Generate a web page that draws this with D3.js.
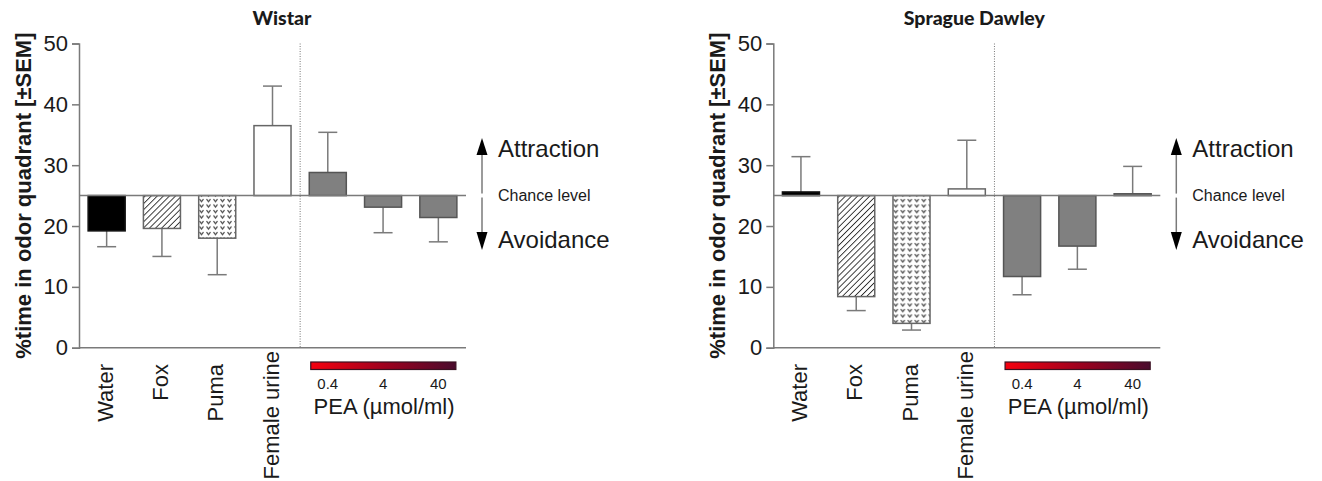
<!DOCTYPE html>
<html>
<head>
<meta charset="utf-8">
<script src="https://cdn.jsdelivr.net/npm/d3@7"></script>
<style>
  html, body { margin: 0; padding: 0; background: #fff; }
  svg { display: block; }
  text { font-family: "Liberation Sans", Arial, sans-serif; fill: #1a1a1a; }
</style>
</head>
<body>
<svg id="chart" width="1322" height="481"></svg>
<script>
// Odor conditions, left to right
const categories = ["Water", "Fox", "Puma", "Female urine", "PEA 0.4", "PEA 4", "PEA 40"];
const axisLabels = ["Water", "Fox", "Puma", "Female urine"];
const peaDoses = ["0.4", "4", "40"];
const yTicks = [0, 10, 20, 30, 40, 50];
const chanceLevel = 25;

// Wistar: mean % time in odor quadrant and SEM
const wistarMean = [19.2, 19.6, 18.0, 36.5, 28.8, 23.1, 21.4];
const wistarSem  = [2.6, 4.6, 6.0, 6.5, 6.6, 4.2, 4.0];

// Sprague Dawley: mean % time in odor quadrant and SEM
const sdMean = [25.6, 8.4, 4.0, 26.1, 11.7, 16.7, 25.3];
const sdSem  = [5.8, 2.3, 1.1, 8.0, 3.0, 3.8, 4.5];

const panels = [
  { title: "Wistar", mean: wistarMean, sem: wistarSem, left: 79 },
  { title: "Sprague Dawley", mean: sdMean, sem: sdSem, left: 773.3 }
];

const svg = d3.select("#chart");
const plotW = 387, yTop = 43.5, yBottom = 347.7;
const axisGray = "#7a7a7a";

// Fill patterns for the predator-odor bars
const defs = svg.append("defs");
const hatch = defs.append("pattern").attr("id", "hatch")
  .attr("patternUnits", "userSpaceOnUse").attr("width", 4.3).attr("height", 4.3)
  .attr("patternTransform", "rotate(45)");
hatch.append("rect").attr("width", 4.3).attr("height", 4.3).attr("fill", "#fff");
hatch.append("line").attr("x1", 0).attr("y1", 0).attr("x2", 0).attr("y2", 4.3)
  .attr("stroke", "#2a2a2a").attr("stroke-width", 1.8);

const chev = defs.append("pattern").attr("id", "chevrons")
  .attr("patternUnits", "userSpaceOnUse").attr("width", 7).attr("height", 5.5);
chev.append("rect").attr("width", 7).attr("height", 5.5).attr("fill", "#fff");
chev.append("path").attr("d", "M1.5,1 L3.5,3.6 L5.5,1")
  .attr("fill", "none").attr("stroke", "#444").attr("stroke-width", 1.2);

const grad = defs.append("linearGradient").attr("id", "peaGrad")
  .attr("x1", "0%").attr("x2", "100%").attr("y1", "0%").attr("y2", "0%");
grad.append("stop").attr("offset", "0%").attr("stop-color", "#f5000f");
grad.append("stop").attr("offset", "50%").attr("stop-color", "#a0001e");
grad.append("stop").attr("offset", "100%").attr("stop-color", "#4a0b2d");

const fills = ["#000", "url(#hatch)", "url(#chevrons)", "#fff", "#808080", "#808080", "#808080"];
const strokes = ["#111", "#666", "#666", "#666", "#555", "#555", "#555"];

panels.forEach(p => {
  const g = svg.append("g").attr("transform", `translate(${p.left},0)`);

  const x = d3.scaleBand().domain(categories).range([0, plotW])
    .paddingInner(0.33).paddingOuter(0.165);
  const y = d3.scaleLinear().domain([0, 50]).range([yBottom, yTop]);

  // Title
  svg.append("text")
    .attr("x", p.left + (p.title === "Wistar" ? 203 : 201))
    .attr("y", 25)
    .attr("text-anchor", "middle")
    .style("font-family", "Lato, 'Open Sans', sans-serif")
    .style("font-weight", "900").style("font-size", "19.5px")
    .attr("fill", "#000")
    .text(p.title);

  // Y axis
  const yAxis = g.append("g").call(d3.axisLeft(y).tickValues(yTicks).tickSize(7).tickPadding(4));
  yAxis.select(".domain").attr("stroke", axisGray).attr("stroke-width", 1.5);
  yAxis.selectAll(".tick line").attr("stroke", axisGray).attr("stroke-width", 1.5);
  yAxis.selectAll(".tick text")
    .style("font-family", "'Liberation Sans', Arial, sans-serif")
    .style("font-size", "22px").attr("fill", "#333");

  // X axis baseline
  g.append("line").attr("x1", 0).attr("x2", plotW)
    .attr("y1", y(0)).attr("y2", y(0))
    .attr("stroke", axisGray).attr("stroke-width", 1.5);

  // Y axis title
  g.append("text")
    .attr("transform", `translate(-48,${(yTop + yBottom) / 2}) rotate(-90)`)
    .attr("text-anchor", "middle")
    .style("font-weight", "bold").style("font-size", "22px")
    .text("%time in odor quadrant [±SEM]");

  // Separator between natural odors and PEA doses
  const sepX = (x("Female urine") + x.bandwidth() + x("PEA 0.4")) / 2;
  g.append("line").attr("x1", sepX).attr("x2", sepX)
    .attr("y1", yTop).attr("y2", yBottom)
    .attr("stroke", "#777").attr("stroke-width", 1).attr("stroke-dasharray", "1,1.5");

  const data = categories.map((c, i) => ({ c, m: p.mean[i], s: p.sem[i], i }));

  // Error bars, pointing away from chance level
  data.forEach(d => {
    const cx = x(d.c) + x.bandwidth() / 2;
    const end = d.m >= chanceLevel ? d.m + d.s : d.m - d.s;
    g.append("line").attr("x1", cx).attr("x2", cx)
      .attr("y1", y(d.m)).attr("y2", y(end))
      .attr("stroke", axisGray).attr("stroke-width", 1.5);
    g.append("line").attr("x1", cx - 9.5).attr("x2", cx + 9.5)
      .attr("y1", y(end)).attr("y2", y(end))
      .attr("stroke", axisGray).attr("stroke-width", 1.5);
  });

  // Bars drawn from the chance level
  g.selectAll("rect.bar").data(data).enter().append("rect")
    .attr("class", "bar")
    .attr("x", d => x(d.c))
    .attr("width", x.bandwidth())
    .attr("y", d => y(Math.max(d.m, chanceLevel)))
    .attr("height", d => Math.abs(y(d.m) - y(chanceLevel)))
    .attr("fill", d => fills[d.i])
    .attr("stroke", d => strokes[d.i])
    .attr("stroke-width", 1.5);

  // Chance level line
  g.append("line").attr("x1", 0).attr("x2", plotW)
    .attr("y1", y(chanceLevel)).attr("y2", y(chanceLevel))
    .attr("stroke", axisGray).attr("stroke-width", 1.5);

  // Category labels
  axisLabels.forEach(lbl => {
    const cx = x(lbl) + x.bandwidth() / 2;
    g.append("text")
      .attr("transform", `translate(${cx + 6},${lbl === "Female urine" ? 351 : 364}) rotate(-90)`)
      .attr("text-anchor", "end")
      .style("font-size", "22px")
      .text(lbl);
  });

  // PEA concentration colour bar
  const cbX0 = x("PEA 0.4") + 1.5, cbX1 = x("PEA 40") + x.bandwidth() - 1;
  g.append("rect").attr("x", cbX0).attr("y", 362)
    .attr("width", cbX1 - cbX0).attr("height", 7.5)
    .attr("fill", "url(#peaGrad)").attr("stroke", "#3a1020").attr("stroke-width", 1.2);
  peaDoses.forEach((dose, k) => {
    const cx = x(categories[4 + k]) + x.bandwidth() / 2;
    g.append("text").attr("x", cx).attr("y", 389)
      .attr("text-anchor", "middle").style("font-size", "15px").attr("fill", "#333")
      .text(dose);
  });
  g.append("text")
    .attr("x", x("PEA 4") + x.bandwidth() / 2 + 1).attr("y", 414)
    .attr("text-anchor", "middle").style("font-size", "22px")
    .text("PEA (µmol/ml)");

  // Attraction / avoidance arrow
  const ax = plotW + 16;
  g.append("line").attr("x1", ax).attr("x2", ax)
    .attr("y1", 150).attr("y2", y(chanceLevel) - 2)
    .attr("stroke", axisGray).attr("stroke-width", 1.5);
  g.append("line").attr("x1", ax).attr("x2", ax)
    .attr("y1", y(chanceLevel) + 2).attr("y2", 236)
    .attr("stroke", axisGray).attr("stroke-width", 1.5);
  g.append("path").attr("d", `M${ax - 5.5},155 L${ax},138 L${ax + 5.5},155 Z`).attr("fill", "#000");
  g.append("path").attr("d", `M${ax - 5.5},232 L${ax},250 L${ax + 5.5},232 Z`).attr("fill", "#000");

  g.append("text").attr("x", ax + 16).attr("y", 157)
    .style("font-size", "24px").text("Attraction");
  g.append("text").attr("x", ax + 16).attr("y", 201)
    .style("font-size", "16px").text("Chance level");
  g.append("text").attr("x", ax + 16).attr("y", 248)
    .style("font-size", "24px").text("Avoidance");
});
</script>
</body>
</html>
